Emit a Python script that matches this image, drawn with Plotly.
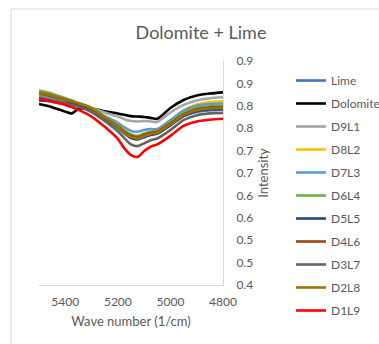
import plotly.graph_objects as go

wavenumber = [5500, 5450, 5400, 5375, 5350, 5300, 5250, 5200, 5175, 5150,
              5125, 5100, 5075, 5050, 5000, 4950, 4900, 4850, 4800]

lime = [0.818, 0.812, 0.805, 0.802, 0.799, 0.790, 0.771, 0.751, 0.739, 0.729,
        0.726, 0.731, 0.736, 0.738, 0.757, 0.777, 0.787, 0.790, 0.791]
dolomite = [0.804, 0.797, 0.787, 0.783, 0.793, 0.794, 0.788, 0.783, 0.780, 0.777,
            0.776, 0.775, 0.773, 0.771, 0.795, 0.813, 0.823, 0.8275, 0.830]
d9l1 = [0.824, 0.818, 0.810, 0.806, 0.802, 0.795, 0.785, 0.776, 0.770, 0.766,
        0.765, 0.766, 0.765, 0.764, 0.785, 0.802, 0.812, 0.817, 0.819]
d8l2 = [0.820, 0.813, 0.806, 0.803, 0.800, 0.791, 0.773, 0.755, 0.743, 0.733,
        0.729, 0.735, 0.740, 0.742, 0.765, 0.790, 0.803, 0.808, 0.810]
d7l3 = [0.822, 0.815, 0.807, 0.804, 0.800, 0.792, 0.777, 0.762, 0.752, 0.744,
        0.742, 0.746, 0.748, 0.748, 0.768, 0.789, 0.800, 0.804, 0.805]
d6l4 = [0.834, 0.827, 0.817, 0.812, 0.806, 0.795, 0.776, 0.757, 0.745, 0.736,
        0.733, 0.738, 0.742, 0.744, 0.764, 0.784, 0.795, 0.799, 0.800]
d5l5 = [0.812, 0.810, 0.806, 0.804, 0.801, 0.792, 0.772, 0.752, 0.739, 0.728,
        0.725, 0.730, 0.735, 0.738, 0.757, 0.777, 0.788, 0.792, 0.793]
d4l6 = [0.827, 0.821, 0.813, 0.809, 0.805, 0.794, 0.774, 0.754, 0.742, 0.733,
        0.730, 0.735, 0.740, 0.742, 0.761, 0.781, 0.792, 0.796, 0.797]
d3l7 = [0.818, 0.812, 0.805, 0.802, 0.798, 0.786, 0.766, 0.743, 0.728, 0.714,
        0.710, 0.716, 0.723, 0.727, 0.746, 0.768, 0.779, 0.783, 0.784]
d2l8 = [0.829, 0.823, 0.815, 0.811, 0.806, 0.795, 0.774, 0.753, 0.740, 0.730,
        0.727, 0.732, 0.737, 0.740, 0.759, 0.779, 0.790, 0.794, 0.795]
d1l9 = [0.816, 0.809, 0.802, 0.797, 0.791, 0.776, 0.753, 0.726, 0.705, 0.690,
        0.686, 0.699, 0.709, 0.714, 0.733, 0.755, 0.765, 0.769, 0.771]

series_names = ["Lime", "Dolomite", "D9L1", "D8L2", "D7L3", "D6L4",
                "D5L5", "D4L6", "D3L7", "D2L8", "D1L9"]
series_values = [lime, dolomite, d9l1, d8l2, d7l3, d6l4, d5l5, d4l6, d3l7, d2l8, d1l9]
series_colors = ["#4472C4", "#000000", "#A5A5A5", "#FFC000", "#5B9BD5", "#70AD47",
                 "#264478", "#9E480E", "#636363", "#997300", "#FF0000"]

x_tick_vals = [5400, 5200, 5000, 4800]
x_tick_labels = ["5400", "5200", "5000", "4800"]
y_tick_vals = [0.4, 0.45, 0.5, 0.55, 0.6, 0.65, 0.7, 0.75, 0.8, 0.85, 0.9]
y_tick_labels = ["0.4", "0.5", "0.5", "0.6", "0.6", "0.7", "0.7", "0.8", "0.8", "0.9", "0.9"]

FONT = "Lato, 'Open Sans', sans-serif"
GREY = "#595959"

fig = go.Figure()
for name, vals, col in zip(series_names, series_values, series_colors):
    fig.add_trace(go.Scatter(
        x=wavenumber, y=vals, name=name, mode="lines", legendgroup=name,
        line=dict(color=col, width=2.6, shape="spline", smoothing=0.8),
    ))

W, H = 379, 344
L, R, T, B = 39, 223, 61, 285

fig.update_layout(
    width=W, height=H,
    margin=dict(l=L, r=W - R, t=T, b=H - B),
    paper_bgcolor="white", plot_bgcolor="white",
    font=dict(family=FONT, color=GREY, size=12),
    title=dict(text="Dolomite + Lime", font=dict(family=FONT, size=18, color=GREY),
               xref="container", x=201 / W, xanchor="center",
               yref="container", y=1 - 33 / H, yanchor="middle"),
    xaxis=dict(range=[5500, 4800], tickvals=x_tick_vals, ticktext=x_tick_labels,
               showgrid=False, zeroline=False, showline=True, linecolor="#D9D9D9",
               linewidth=1, ticks="", ticklabelstandoff=6,
               tickfont=dict(size=12, color=GREY),
               title=dict(text="Wave number (1/cm)", font=dict(size=13, color=GREY), standoff=8)),
    yaxis=dict(range=[0.4, 0.9], side="right", tickvals=y_tick_vals, ticktext=y_tick_labels,
               showgrid=False, zeroline=False, showline=True, linecolor="#D9D9D9",
               linewidth=1, ticks="", ticklabelstandoff=10,
               tickfont=dict(size=12, color=GREY),
               title=dict(text="Intensity", font=dict(size=13, color=GREY), standoff=6)),
    legend=dict(xref="container", yref="container", x=291 / W, y=1 - 66 / H,
                xanchor="left", yanchor="top", font=dict(size=12, color=GREY),
                tracegroupgap=4, bgcolor="rgba(0,0,0,0)", maxheight=320),
    shapes=[dict(type="rect", xref="paper", yref="paper",
                 x0=(11 - L) / (R - L), x1=(W + 20 - L) / (R - L),
                 y0=(B - (H + 20)) / (B - T), y1=(B - 9) / (B - T),
                 line=dict(color="#D9D9D9", width=1), fillcolor="rgba(0,0,0,0)",
                 layer="below")],
)

fig.write_html("out.html")
